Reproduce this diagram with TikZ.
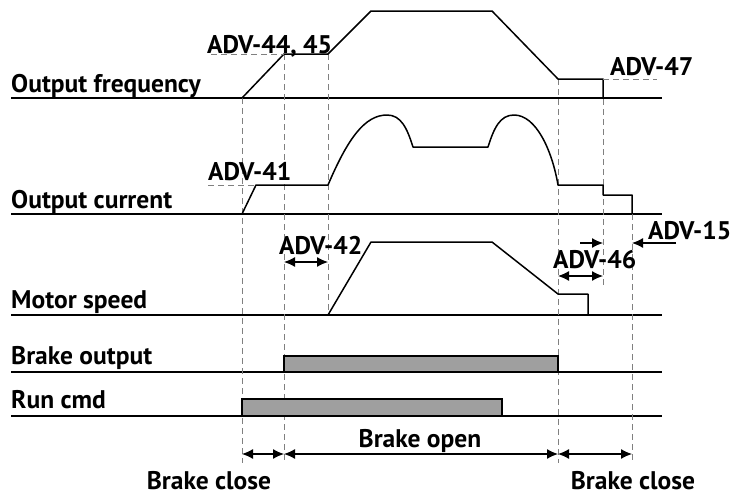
\documentclass[tikz,border=0pt]{standalone}
\usepackage{fontspec}
\setmainfont{PT Sans}
\usepackage{tikz}
\usetikzlibrary{arrows.meta}
\usetikzlibrary{positioning}

\begin{document}
\begin{tikzpicture}[
  x=1pt, y=-1pt,
  every node/.style={font=\fontsize{25.5}{29}\selectfont\bfseries, inner sep=0pt},
  axis/.style={line width=2pt},
  wave/.style={line width=1.5pt, line join=round},
  guide/.style={gray, dash pattern=on 6pt off 4pt, line width=1pt},
  bar/.style={fill=gray!75, draw=black, line width=1.5pt},
  span/.style={<->, line width=1.2pt},
  tip/.style={->, line width=1.2pt},
]
\tikzset{>={Latex[length=11pt, width=10pt]}}
\useasboundingbox (0,0) rectangle (734,496);

%% Signal names and base lines
\node[anchor=base west] (freq) at (11,92)  {Output frequency};
\node[anchor=base west] (cur)  at (11,208) {Output current};
\node[anchor=base west] (spd)  at (11,308) {Motor speed};
\node[anchor=base west] (brk)  at (11,364) {Brake output};
\node[anchor=base west] (run)  at (11,408) {Run cmd};

\foreach \n/\y in {freq/98, cur/214, spd/315, brk/372, run/416} {
  \coordinate (\n L) at (11,\y);
  \coordinate (\n R) at (662,\y);
  \draw[axis] (\n L) -- (\n R);
}

%% Timing guides
\foreach \n/\x/\ya/\yb in {1/242/98/463, 2/284/54/463, 3/328/54/315,
                           4/558/79/463, 5/603/79/286, 6/632/214/463} {
  \coordinate (g\n a) at (\x,\ya);
  \coordinate (g\n b) at (\x,\yb);
  \draw[guide] (g\n a) -- (g\n b);
}

%% Output frequency
\draw[wave] (242,98) -- (284,54) -- (328,54) -- (371,11) -- (492,11)
  -- (558,79) -- (603,79) -- (603,98);
\coordinate (h44a) at (211,54);
\coordinate (h47b) at (657,79);
\draw[guide] (h44a) -- (g2a);
\draw[guide] (g5a) -- (h47b);
\node[anchor=base west] (a4445) at (207,53) {ADV-44, 45};
\node[anchor=base west] (a47)   at (610,75) {ADV-47};

%% Output current
\draw[wave] (242,214) -- (256,185) -- (328,185)
  .. controls (348,138) and (365,115) .. (387,115)
  .. controls (401,115) and (407,128) .. (413,147)
  -- (488,147)
  .. controls (494,128) and (500,115) .. (514,115)
  .. controls (536,115) and (552,150) .. (558,185)
  -- (603,185) -- (603,195) -- (632,195) -- (632,214);
\coordinate (h41a) at (208,185);
\coordinate (h41b) at (256,185);
\draw[guide] (h41a) -- (h41b);
\node[anchor=base west] (a41) at (208,180) {ADV-41};

%% Motor speed
\draw[wave] (328,315) -- (371,242) -- (492,242) -- (558,294)
  -- (588,294) -- (588,315);
\node[anchor=base west] (a42) at (279,254) {ADV-42};
\coordinate (d42a) at (284,262);
\coordinate (d42b) at (328,262);
\draw[span] (d42a) -- (d42b);

\node[anchor=base west] (a46) at (553,268) {ADV-46};
\coordinate (d46a) at (558,276);
\coordinate (d46b) at (603,276);
\draw[span] (d46a) -- (d46b);
\coordinate (p46a) at (580,243);
\coordinate (p46b) at (603,243);
\draw[tip] (p46a) -- (p46b);

\node[anchor=base west] (a15) at (648,239) {ADV-15};
\coordinate (p15a) at (676,243);
\coordinate (p15b) at (632,243);
\draw[tip] (p15a) -- (p15b);

%% Brake output and run command
\draw[bar] (284,372) rectangle (558,356);
\draw[bar] (242,416) rectangle (502,399);

%% Brake states
\coordinate (s1) at (242,454);
\coordinate (s2) at (284,454);
\coordinate (s3) at (558,454);
\coordinate (s4) at (632,454);
\draw[span] (s1) -- (s2);
\draw[span] (s2) -- (s3);
\draw[span] (s3) -- (s4);
\node[anchor=base] (open)   at (420,447) {Brake open};
\node[anchor=base] (close1) at (209,489) {Brake close};
\node[anchor=base] (close2) at (633,489) {Brake close};

\end{tikzpicture}
\end{document}
